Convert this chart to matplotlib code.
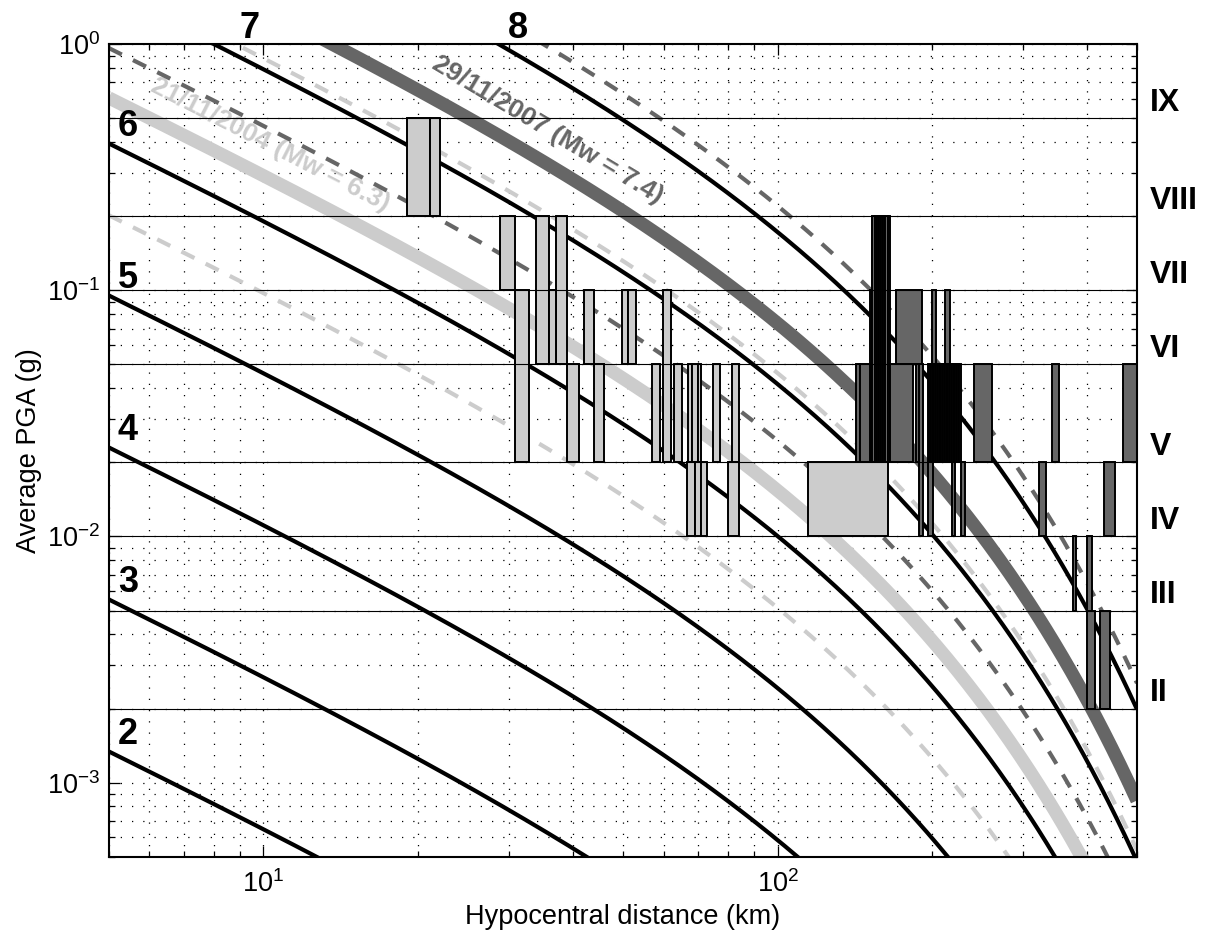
import numpy as np
import matplotlib.pyplot as plt
from matplotlib.patches import Rectangle
from matplotlib.ticker import NullFormatter

plt.rcParams['font.family'] = ['Liberation Sans', 'DejaVu Sans']
plt.rcParams['mathtext.fontset'] = 'custom'
plt.rcParams['mathtext.rm'] = 'Liberation Sans'
plt.rcParams['mathtext.it'] = 'Liberation Sans:italic'
plt.rcParams['mathtext.bf'] = 'Liberation Sans:bold'

# attenuation law: log10(PGA) = A*M - B*D - log10(D) - C   (PGA in g, D in km)
A_MAG, B_DIST, C_CONST = 0.6176, 0.0031, 3.394
SIGMA = 0.477

magnitudes = [2, 3, 4, 5, 6, 7, 8]
event_dates = ['21/11/2004', '29/11/2007']
event_mw = [6.3, 7.4]
event_colors = ['#cccccc', '#666666']

pga_limits = [0.002, 0.005, 0.01, 0.02, 0.05, 0.1, 0.2, 0.5, 1.0]
intensities = ['II', 'III', 'IV', 'V', 'VI', 'VII', 'VIII', 'IX']

# felt reports 21/11/2004: distance range (km) and intensity range
obs04_dmin = [19.0, 21.1, 28.9, 33.9, 37.0, 30.9, 35.9, 42.0, 49.9, 51.2, 59.8,
              38.9, 43.9, 57.1, 63.0, 66.9, 68.0, 70.0, 74.8, 81.6,
              66.6, 69.0, 71.1, 79.9, 114.8]
obs04_dmax = [21.1, 22.0, 30.9, 35.9, 38.9, 32.9, 37.0, 43.9, 51.2, 53.0, 61.9,
              41.0, 45.9, 59.0, 65.2, 68.0, 70.0, 71.1, 77.1, 84.1,
              69.0, 71.1, 73.0, 84.1, 164.0]
obs04_imin = [8, 8, 7, 6, 6, 5, 6, 6, 6, 6, 5,
              5, 5, 5, 5, 5, 5, 5, 5, 5,
              4, 4, 4, 4, 4]
obs04_imax = [8, 8, 7, 7, 7, 6, 6, 6, 6, 6, 6,
              5, 5, 5, 5, 5, 5, 5, 5, 5,
              4, 4, 4, 4, 4]

# felt reports 29/11/2007
obs07_dmin = [151.0, 152.9, 154.4, 155.9, 157.4, 158.9, 160.4, 162.0, 163.7,
              169.6, 199.3, 211.2,
              141.8, 144.4, 165.6, 185.5, 188.0,
              195.8, 197.3, 198.8, 200.3, 201.8, 203.4, 205.0, 206.6, 208.2,
              209.8, 211.5, 213.2, 214.9, 216.6, 218.3, 220.0, 221.8, 223.6,
              225.4,
              240.5, 342.5, 468.7,
              195.8, 218.1, 227.8, 321.8, 432.3,
              374.7, 400.6,
              400.6, 424.6]
obs07_dmax = [152.9, 154.4, 155.9, 157.4, 158.9, 160.4, 162.0, 163.7, 165.6,
              190.5, 202.9, 216.9,
              144.4, 151.0, 183.3, 188.0, 192.2,
              197.3, 198.8, 200.3, 201.8, 203.4, 205.0, 206.6, 208.2, 209.8,
              211.5, 213.2, 214.9, 216.6, 218.3, 220.0, 221.8, 223.6, 225.4,
              227.8,
              260.7, 353.4, 500.0,
              200.2, 221.5, 231.0, 332.0, 452.2,
              379.8, 407.9,
              413.4, 444.1]
obs07_imin = [5, 5, 5, 5, 5, 5, 5, 5, 5,
              6, 6, 6,
              5, 5, 5, 5, 4,
              5, 5, 5, 5, 5, 5, 5, 5, 5,
              5, 5, 5, 5, 5, 5, 5, 5, 5,
              5,
              5, 5, 5,
              4, 4, 4, 4, 4,
              3, 3,
              2, 2]
obs07_imax = [6, 7, 7, 7, 7, 7, 7, 7, 7,
              6, 6, 6,
              5, 5, 5, 5, 5,
              5, 5, 5, 5, 5, 5, 5, 5, 5,
              5, 5, 5, 5, 5, 5, 5, 5, 5,
              5,
              5, 5, 5,
              4, 4, 4, 4, 4,
              3, 3,
              2, 2]


def pga(m, d):
    return 10 ** (A_MAG * m - B_DIST * d - np.log10(d) - C_CONST)


fig = plt.figure(figsize=(12.08, 9.32), dpi=100)
ax = fig.add_axes([0.09, 0.0808, 0.8512, 0.8717])
ax.set_xscale('log')
ax.set_yscale('log')
ax.set_xlim(5, 500)
ax.set_ylim(5e-4, 1)

dist = np.logspace(np.log10(5), np.log10(500), 500)

# magnitude curves
for m in magnitudes:
    ax.plot(dist, pga(m, dist), color='k', lw=3.0, zorder=2, solid_capstyle='butt')

# event curves with +/- sigma
for mw, col in zip(event_mw, event_colors):
    for s in (1, -1):
        ax.plot(dist, pga(mw, dist) * 10 ** (s * SIGMA), color=col, lw=3.0,
                dashes=(3.5, 3.0), zorder=2)
    ax.plot(dist, pga(mw, dist), color=col, lw=9.5, zorder=2,
            solid_capstyle='butt')

# intensity thresholds
for p in pga_limits[:-1]:
    ax.axhline(p, color='k', lw=0.8, zorder=4)


def draw_obs(dmin, dmax, imin, imax, col):
    for d0, d1, i0, i1 in zip(dmin, dmax, imin, imax):
        lo = pga_limits[i0 - 2]
        hi = pga_limits[i1 - 1]
        ax.add_patch(Rectangle((d0, lo), d1 - d0, hi - lo, facecolor=col,
                               edgecolor='k', lw=1.4, zorder=3))


draw_obs(obs04_dmin, obs04_dmax, obs04_imin, obs04_imax, event_colors[0])
draw_obs(obs07_dmin, obs07_dmax, obs07_imin, obs07_imax, event_colors[1])

# magnitude labels
for m in magnitudes[:5]:
    ax.text(5.21, pga(m, 5) * 1.07, str(m), fontsize=26, fontweight='bold',
            ha='left', va='baseline', zorder=5)
top_pos = {7: 9.4, 8: 31.2}
for m in (7, 8):
    ax.text(top_pos[m], 1.0078, str(m), fontsize=26, fontweight='bold',
            ha='center', va='baseline', transform=ax.get_xaxis_transform(),
            clip_on=False)

# intensity labels on the right
for name, lo in zip(intensities, pga_limits[:-1]):
    ax.text(1.0126, lo * 1.073, name, fontsize=23, fontweight='bold',
            ha='left', va='baseline', transform=ax.get_yaxis_transform(),
            clip_on=False)

# event labels along the curves, under the dashed lines
text_d = [10.3, 35.7]
for date, mw, col, d in zip(event_dates, event_mw, event_colors, text_d):
    p1 = ax.transData.transform((d / 1.1, pga(mw, d / 1.1)))
    p2 = ax.transData.transform((d * 1.1, pga(mw, d * 1.1)))
    ang = np.degrees(np.arctan2(p2[1] - p1[1], p2[0] - p1[0]))
    ax.text(d, pga(mw, d) * 1.375, f'{date} (Mw = {mw})', color=col,
            fontsize=19, fontweight='bold', rotation=ang,
            rotation_mode='anchor', ha='center', va='center', zorder=1.9)

ax.set_xticks([10, 100])
ax.set_xticklabels(['$10^{1}$', '$10^{2}$'])
ax.set_yticks([1e-3, 1e-2, 1e-1, 1])
ax.set_yticklabels(['$10^{-3}$', '$10^{-2}$', '$10^{-1}$', '$10^{0}$'])
ax.xaxis.set_minor_formatter(NullFormatter())
ax.yaxis.set_minor_formatter(NullFormatter())
ax.tick_params(which='both', direction='in', top=True, right=True,
               labelsize=19.5, width=0.9)
ax.tick_params(which='major', length=8)
ax.tick_params(which='minor', length=4)
ax.tick_params(axis='x', pad=10)
ax.tick_params(axis='y', pad=6)

ax.grid(True, which='both', color='k', lw=0.9, ls=(0, (1, 8)))
ax.set_axisbelow(True)
for sp in ax.spines.values():
    sp.set_linewidth(1.5)
    sp.set_zorder(6)

ax.set_xlabel('Hypocentral distance (km)', fontsize=19.5, labelpad=4)
ax.set_ylabel('Average PGA (g)', fontsize=19.5, labelpad=4)

fig.savefig('out.png', dpi=100)
